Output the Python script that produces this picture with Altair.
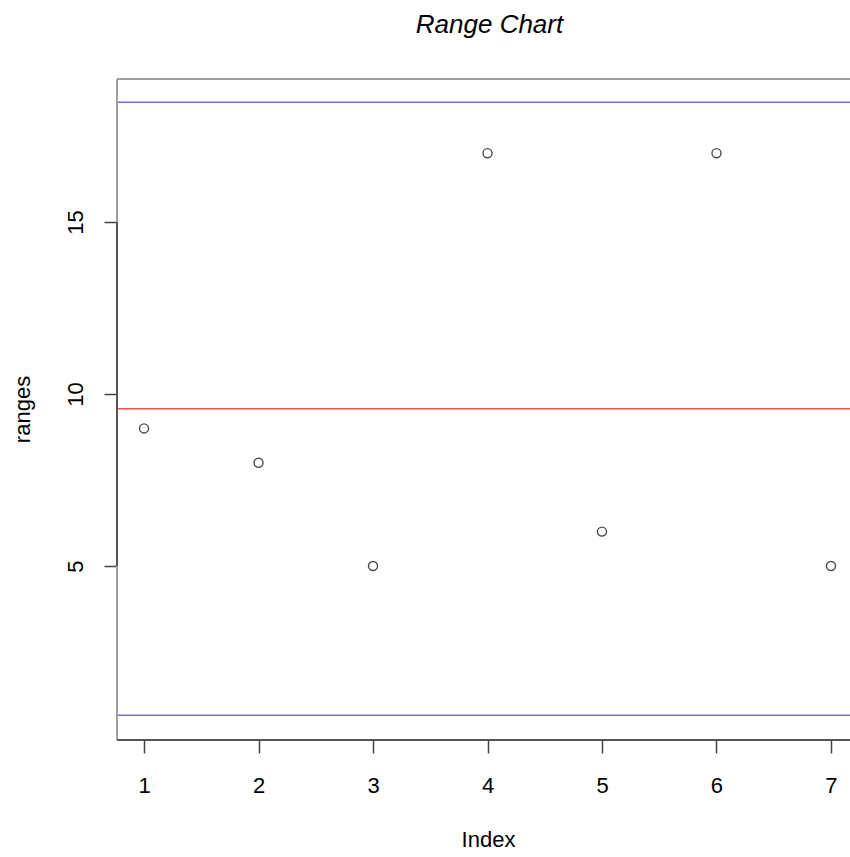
import altair as alt
import pandas as pd

# ---- data ----
index = [1, 2, 3, 4, 5, 6, 7]
ranges = [9, 8, 5, 17, 6, 17, 5]
center_line = [9.571]
control_limits = [18.48, 0.66]
x_ticks = [1, 2, 3, 4, 5, 6, 7]
y_ticks = [5, 10, 15]
x_domain = [0.764, 7.166]
y_domain = [-0.058, 19.157]

FONT = "Liberation Sans"
W, H = 733, 661

df = pd.DataFrame({"Index": index, "ranges": ranges})
cl_df = pd.DataFrame({"v": center_line})
lim_df = pd.DataFrame({"v": control_limits})
yaxis_df = pd.DataFrame({"a": [min(y_ticks)], "b": [max(y_ticks)]})

xs = alt.Scale(domain=x_domain, nice=False, zero=False)
ys = alt.Scale(domain=y_domain, nice=False, zero=False)

x_axis = alt.Axis(
    values=x_ticks, format="d", title="Index", grid=False, domain=False,
    tickSize=13, tickColor="#444", tickWidth=1.5,
    labelFont=FONT, labelFontSize=22, labelColor="black", labelPadding=22,
    labelAngle=0, labelFlush=False,
    titleFont=FONT, titleFontSize=22, titleFontWeight="normal", titleColor="black",
    titleX=371, titleY=106, titleBaseline="alphabetic", titleAlign="center",
)
y_axis = alt.Axis(
    values=y_ticks, title="ranges", grid=False, domain=False,
    tickSize=13, tickColor="#444", tickWidth=1.5,
    labelFont=FONT, labelFontSize=22, labelColor="black", labelPadding=17,
    labelAngle=270, labelAlign="center", labelBaseline="bottom", labelFlush=False,
    titleFont=FONT, titleFontSize=22, titleFontWeight="normal", titleColor="black",
    titleAngle=270, titleX=-88, titleY=330, titleBaseline="alphabetic", titleAlign="center",
)

points = alt.Chart(df).mark_point(
    shape="circle", filled=False, color="black", size=82, strokeWidth=1.4, clip=True
).encode(
    x=alt.X("Index:Q", scale=xs, axis=x_axis),
    y=alt.Y("ranges:Q", scale=ys, axis=y_axis),
)

cl = alt.Chart(cl_df).mark_rule(color="#f05050", strokeWidth=1.6).encode(
    y=alt.Y("v:Q", scale=ys)
)
lims = alt.Chart(lim_df).mark_rule(color="#7070e8", strokeWidth=1.6).encode(
    y=alt.Y("v:Q", scale=ys)
)

frame_top = alt.Chart(cl_df).mark_rule(color="#a0a0a0", strokeWidth=2).encode(
    y=alt.value(0)
)
frame_left = alt.Chart(cl_df).mark_rule(color="#a0a0a0", strokeWidth=2).encode(
    x=alt.value(0)
)
frame_bottom = alt.Chart(cl_df).mark_rule(color="#555555", strokeWidth=2).encode(
    y=alt.value(H)
)
yaxis_line = alt.Chart(yaxis_df).mark_rule(color="#555555", strokeWidth=2).encode(
    x=alt.value(0),
    y=alt.Y("a:Q", scale=ys),
    y2="b:Q",
)

chart = alt.layer(
    cl, lims, frame_top, frame_left, frame_bottom, yaxis_line, points
).properties(
    width=W,
    height=H,
    title=alt.TitleParams(
        "Range Chart", font=FONT, fontSize=26, fontStyle="italic",
        fontWeight="normal", color="black", anchor="middle", dx=6, offset=40,
    ),
    autosize="none",
    padding={"left": 117, "top": 79, "right": 0, "bottom": 117},
    background="white",
).configure_view(strokeWidth=0)

chart.save("out.html", embed_options={"renderer": "svg", "actions": False})
